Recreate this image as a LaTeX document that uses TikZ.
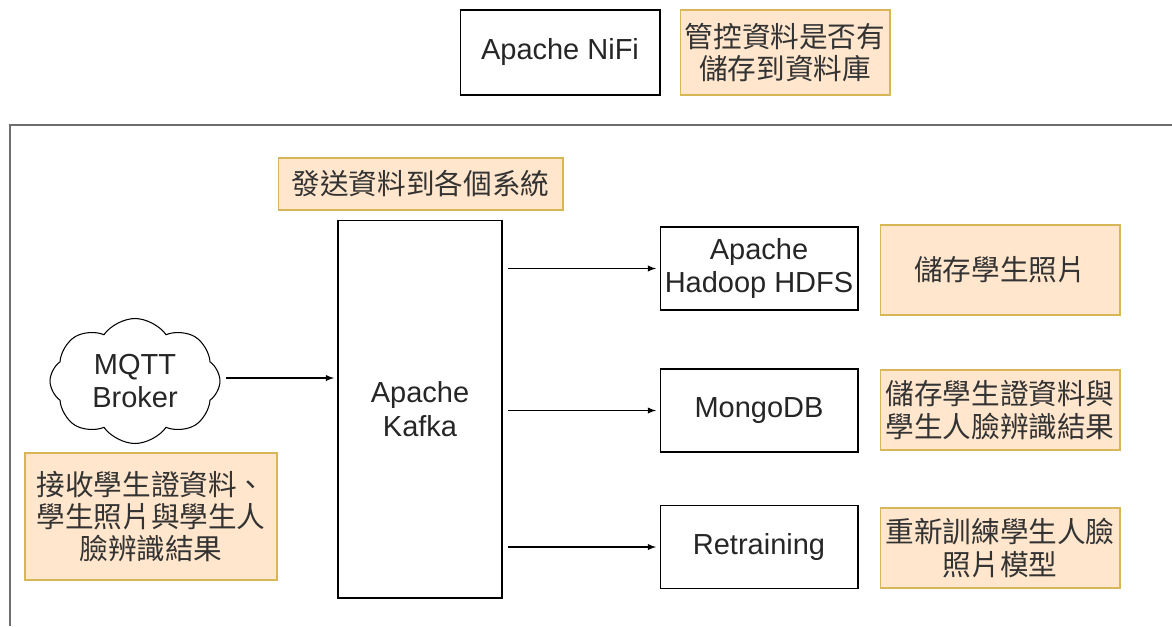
\documentclass[tikz,border=0pt]{standalone}
\usepackage{fontspec}
\setmainfont{Liberation Sans}
\newfontfamily\cjk{Noto Sans CJK TC}
\usetikzlibrary{positioning,shapes.symbols,arrows}
\definecolor{notefill}{HTML}{FFE6CC}
\definecolor{noteline}{HTML}{D6B656}
\definecolor{framegray}{HTML}{6E6E6E}

\begin{document}
\begin{tikzpicture}[x=0.02cm,y=-0.02cm,
		box/.style={draw=black,line width=0.6pt,fill=white,align=center,text=black!85,
			font=\fontsize{16.5}{19}\selectfont,inner sep=0pt},
		note/.style={draw=noteline,line width=0.6pt,fill=notefill,align=center,text=black!80,
			font=\cjk\fontsize{16.3}{18.3}\selectfont,inner sep=0pt},
		flow/.style={-latex,line width=0.6pt,shorten <=3pt,shorten >=2pt}]
		\useasboundingbox (0,0) rectangle (1172,626);
		% outer frame
		\draw[framegray,line width=0.9pt] (10,626) -- (10,125) -- (1172,125);
		% top row
		\node[box,minimum width=4cm,minimum height=1.7cm] (nifi) at (560,52.5) {Apache NiFi};
		\node[note,minimum width=4.2cm,minimum height=1.7cm] (nifinote) at (785,52.5) {管控資料是否有\\儲存到資料庫};
		% kafka
		\node[note,minimum width=5.7cm,minimum height=1.04cm] (kafkanote) at (420.5,184) {發送資料到各個系統};
		\node[box,minimum width=3.28cm,minimum height=7.56cm] (kafka) at (420,409) {Apache\\Kafka};
		% mqtt
		\node[cloud,draw,line width=0.6pt,cloud puffs=8,cloud puff arc=110,aspect=1.5,minimum width=3.4cm,minimum height=2.5cm,
			align=center,text=black!85,font=\fontsize{16.5}{19}\selectfont,inner sep=0pt] (mqtt) at (135,381) {MQTT\\Broker};
		\node[note,minimum width=5.04cm,minimum height=2.54cm] (mqttnote) at (151,516.5) {接收學生證資料、\\學生照片與學生人\\臉辨識結果};
		% sinks
		\node[box,minimum width=3.96cm,minimum height=1.66cm] (hdfs) at (759,268.5) {Apache\\Hadoop HDFS};
		\node[box,minimum width=3.96cm,minimum height=1.66cm] (mongo) at (759,410.5) {MongoDB};
		\node[box,minimum width=3.96cm,minimum height=1.66cm] (retrain) at (759,547) {Retraining};
		\node[note,minimum width=4.8cm,minimum height=1.8cm] (hdfsnote) at (1000,270) {儲存學生照片};
		\node[note,minimum width=4.8cm,minimum height=1.6cm] (mongonote) at (1000,410) {儲存學生證資料與\\學生人臉辨識結果};
		\node[note,minimum width=4.8cm,minimum height=1.6cm] (retrainnote) at (1000,548) {重新訓練學生人臉\\照片模型};
		% connectors
		\draw[flow] (mqtt.east |- 0,378) -- (kafka.west |- 0,378);
		\draw[flow] (kafka.east |- hdfs) -- (hdfs);
		\draw[flow] (kafka.east |- mongo) -- (mongo);
		\draw[flow] (kafka.east |- retrain) -- (retrain);
	\end{tikzpicture}
\end{document}
